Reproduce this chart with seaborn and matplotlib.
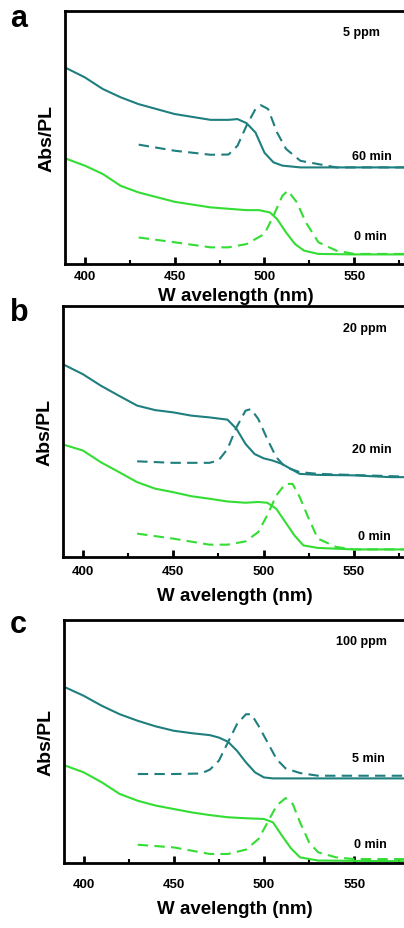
import pandas as pd
import numpy as np
import matplotlib
matplotlib.use("Agg")
import matplotlib.pyplot as plt
import seaborn as sns

# ---- data (arbitrary units, 0-100 per panel) ----
# panel a: 5 ppm, 0 min vs 60 min
a_abs_nm = [389, 400, 410, 420, 430, 450, 470, 480, 485, 490, 495, 500, 505, 510, 520, 540, 560, 578]
a_abs_60 = [77.7, 73.8, 69.2, 65.9, 63.2, 59.3, 57.0, 57.0, 57.3, 55.7, 52.0, 44.0, 40.2, 38.9, 38.2, 38.2, 38.2, 38.2]
a_abs0_nm = [389, 400, 410, 420, 430, 450, 470, 490, 497, 503, 507, 512, 517, 522, 530, 550, 578]
a_abs_0 = [41.8, 38.9, 35.6, 30.9, 28.3, 24.6, 22.4, 21.3, 21.3, 20.4, 17.8, 12.5, 7.9, 5.3, 4.0, 3.8, 3.8]
a_pl60_nm = [430, 450, 470, 480, 485, 490, 495, 498, 502, 507, 512, 520, 530, 540, 578]
a_pl_60 = [47.2, 44.8, 43.2, 43.3, 46.8, 54.7, 61.3, 62.8, 61.3, 52.0, 45.5, 40.8, 39.5, 38.2, 38.2]
a_pl0_nm = [430, 450, 470, 480, 490, 500, 505, 510, 513, 518, 523, 530, 540, 550, 578]
a_pl_0 = [10.5, 8.6, 6.6, 6.6, 7.9, 11.9, 19.1, 27.0, 29.0, 24.4, 16.5, 8.6, 5.3, 4.0, 4.0]

# panel b: 20 ppm, 0 min vs 20 min
b_abs_nm = [390, 400, 410, 420, 430, 440, 450, 460, 470, 480, 485, 490, 495, 500, 505, 510, 515, 520, 530, 550, 570, 579]
b_abs_20 = [76.4, 72.8, 68.2, 64.2, 60.3, 58.5, 57.6, 56.3, 55.6, 54.7, 51.0, 45.0, 41.0, 39.3, 38.4, 37.1, 35.1, 33.1, 32.7, 32.5, 31.8, 31.8]
b_abs0_nm = [390, 400, 410, 420, 430, 440, 450, 460, 470, 480, 490, 497, 502, 507, 512, 517, 522, 530, 550, 579]
b_abs_0 = [44.6, 42.4, 37.7, 33.8, 29.8, 27.2, 25.8, 24.2, 23.2, 22.1, 21.6, 21.9, 21.6, 19.2, 13.9, 8.6, 4.6, 3.6, 3.0, 3.0]
b_pl20_nm = [430, 450, 470, 475, 480, 485, 490, 493, 497, 502, 507, 512, 520, 530, 579]
b_pl_20 = [38.1, 37.5, 37.5, 38.4, 43.0, 51.7, 58.3, 58.9, 55.0, 47.0, 39.7, 35.8, 33.8, 33.1, 32.0]
b_pl0_nm = [430, 450, 470, 480, 490, 497, 502, 507, 512, 516, 520, 525, 530, 540, 550, 579]
b_pl_0 = [9.3, 7.3, 4.9, 4.9, 6.2, 9.9, 16.6, 24.5, 29.1, 29.1, 23.8, 15.2, 7.3, 4.0, 3.0, 3.0]

# panel c: 100 ppm, 0 min vs 5 min
c_abs_nm = [390, 400, 410, 420, 430, 440, 450, 460, 470, 475, 480, 485, 490, 495, 500, 505, 520, 550, 579]
c_abs_5 = [72.2, 68.8, 64.7, 61.2, 58.5, 56.2, 54.4, 53.4, 52.6, 51.6, 49.9, 46.2, 41.4, 37.3, 35.2, 34.8, 34.8, 34.8, 34.8]
c_abs0_nm = [390, 400, 410, 420, 430, 440, 450, 460, 470, 480, 490, 500, 505, 510, 515, 520, 530, 579]
c_abs_0 = [40.0, 37.3, 33.2, 28.4, 25.6, 23.6, 22.2, 20.8, 19.7, 18.8, 18.4, 18.1, 16.7, 11.2, 6.0, 2.3, 1.0, 0.7]
c_pl5_nm = [430, 450, 465, 470, 475, 480, 485, 490, 493, 497, 502, 507, 512, 520, 530, 579]
c_pl_5 = [36.6, 36.6, 36.8, 38.4, 42.1, 49.6, 57.1, 61.2, 61.2, 56.4, 49.6, 42.7, 38.9, 37.0, 35.9, 35.9]
c_pl0_nm = [430, 450, 470, 480, 490, 497, 502, 507, 512, 516, 520, 525, 530, 540, 550, 579]
c_pl_0 = [7.5, 6.4, 3.7, 3.7, 5.5, 9.9, 16.7, 23.6, 26.7, 24.2, 16.7, 8.5, 4.4, 2.3, 1.6, 1.6]

panel_letters = ["a", "b", "c"]
conc_labels = ["5 ppm", "20 ppm", "100 ppm"]
time_labels = ["60 min", "20 min", "5 min"]

TEAL = "#1f7f7f"
GREEN = "#33dd33"

panels = [
    [(a_abs_nm, a_abs_60, TEAL, "-"), (a_abs0_nm, a_abs_0, GREEN, "-"),
     (a_pl60_nm, a_pl_60, TEAL, "--"), (a_pl0_nm, a_pl_0, GREEN, "--")],
    [(b_abs_nm, b_abs_20, TEAL, "-"), (b_abs0_nm, b_abs_0, GREEN, "-"),
     (b_pl20_nm, b_pl_20, TEAL, "--"), (b_pl0_nm, b_pl_0, GREEN, "--")],
    [(c_abs_nm, c_abs_5, TEAL, "-"), (c_abs0_nm, c_abs_0, GREEN, "-"),
     (c_pl5_nm, c_pl_5, TEAL, "--"), (c_pl0_nm, c_pl_0, GREEN, "--")],
]
# label positions (nm, y) per panel: conc, time, 0 min
label_pos = [
    [(554, 91.7), (560, 42.7), (559, 11.1)],
    [(556, 91.4), (560, 43.0), (561, 8.3)],
    [(554, 91.4), (558, 43.0), (559, 7.8)],
]

sns.set_theme(style="white")
plt.rcParams["font.family"] = ["Liberation Sans", "DejaVu Sans"]
plt.rcParams["font.weight"] = "bold"
plt.rcParams["text.color"] = "black"
plt.rcParams["axes.labelcolor"] = "black"
plt.rcParams["xtick.color"] = "black"

fig = plt.figure(figsize=(4.04, 9.29), dpi=100)
# axes rectangles in figure fractions
rects = [
    [0.161, 0.7147, 0.845, 0.2723],
    [0.156, 0.3994, 0.850, 0.2702],
    [0.158, 0.0700, 0.848, 0.2616],
]
tick_pads = [4, 6, 11]
xlabel_pads = [4, 7, 7]
letter_y = [0.996, 0.679, 0.343]

for i, rect in enumerate(rects):
    ax = fig.add_axes(rect)
    for x, y, col, ls in panels[i]:
        line_kw = dict(dashes=(5, 3)) if ls == "--" else {}
        sns.lineplot(x=x, y=y, ax=ax, color=col, linewidth=1.5, **line_kw)
    ax.set_xlim(389, 579)
    ax.set_ylim(0, 100)
    ax.set_yticks([])
    ax.set_xticks([400, 450, 500, 550])
    ax.set_xticks([425, 475, 525, 575], minor=True)
    ax.tick_params(axis="x", which="major", direction="in", length=5, width=2,
                   labelsize=9.5, pad=tick_pads[i], bottom=True)
    ax.tick_params(axis="x", which="minor", direction="in", length=3, width=1.5, bottom=True)
    for side in ["left", "bottom", "top"]:
        ax.spines[side].set_linewidth(2)
        ax.spines[side].set_color("black")
    ax.spines["right"].set_visible(False)
    ax.set_xlabel("W avelength (nm)", fontsize=13.5, fontweight="bold", labelpad=xlabel_pads[i])
    ax.set_ylabel("Abs/PL", fontsize=14, fontweight="bold", labelpad=7)

    (cx, cy), (tx, ty), (zx, zy) = label_pos[i]
    for lx, ly, txt in [(cx, cy, conc_labels[i]), (tx, ty, time_labels[i]), (zx, zy, "0 min")]:
        ax.text(lx, ly, txt, ha="center", va="center", fontsize=9, fontweight="bold")

    fig.text(0.025, letter_y[i], panel_letters[i], fontsize=22, fontweight="bold", va="top")

fig.savefig("out.png", dpi=100)
